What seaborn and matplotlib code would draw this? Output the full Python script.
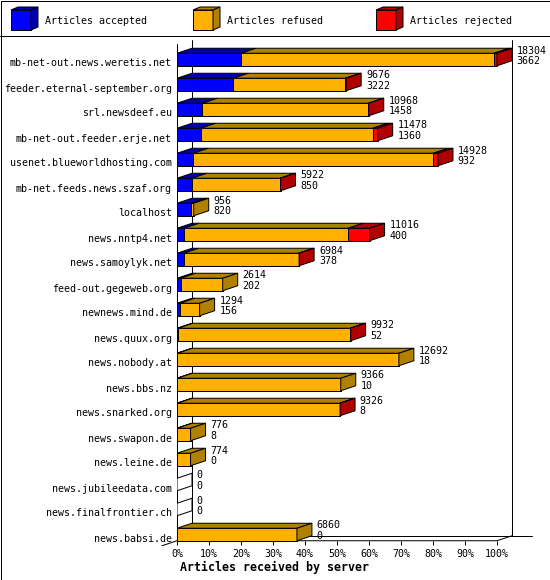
import numpy as np
import pandas as pd
import seaborn as sns
import matplotlib.pyplot as plt
from matplotlib.patches import Polygon, Rectangle
from matplotlib.transforms import ScaledTranslation

hosts = ["mb-net-out.news.weretis.net", "feeder.eternal-september.org", "srl.newsdeef.eu",
         "mb-net-out.feeder.erje.net", "usenet.blueworldhosting.com", "mb-net.feeds.news.szaf.org",
         "localhost", "news.nntp4.net", "news.samoylyk.net", "feed-out.gegeweb.org",
         "newnews.mind.de", "news.quux.org", "news.nobody.at", "news.bbs.nz", "news.snarked.org",
         "news.swapon.de", "news.leine.de", "news.jubileedata.com", "news.finalfrontier.ch",
         "news.babsi.de"]
offered = [18304, 9676, 10968, 11478, 14928, 5922, 956, 11016, 6984, 2614,
           1294, 9932, 12692, 9366, 9326, 776, 774, 0, 0, 6860]
accepted = [3662, 3222, 1458, 1360, 932, 850, 820, 400, 378, 202,
            156, 52, 18, 10, 8, 8, 0, 0, 0, 0]
# rejected counts estimated from the red segment widths
rejected = [170, 40, 20, 280, 270, 30, 0, 1230, 30, 0,
            0, 30, 0, 0, 20, 0, 0, 0, 0, 0]

series = ["Articles accepted", "Articles refused", "Articles rejected"]
colors = ["#0000FF", "#FFB000", "#FF0000"]
darks = ["#0000B0", "#B08000", "#B00000"]
ticks = list(range(0, 101, 10))

df = pd.DataFrame({"host": hosts, "offered": offered,
                   "accepted": accepted, "rejected": rejected})
df["refused"] = df["offered"] - df["accepted"] - df["rejected"]
scale = 100.0 / df["offered"].max()
df["acc_pct"] = df["accepted"] * scale
df["accref_pct"] = (df["accepted"] + df["refused"]) * scale
df["tot_pct"] = df["offered"] * scale

sns.set_style("white")
plt.rcParams["font.family"] = ["DejaVu Sans Mono"]
plt.rcParams["text.color"] = "black"
plt.rcParams["xtick.color"] = "black"
plt.rcParams["ytick.color"] = "black"
FS = 7.2
LW = 0.72

fig = plt.figure(figsize=(5.5, 5.8), dpi=100)

# background: frame + legend, in pixel coordinates
bg = fig.add_axes([0, 0, 1, 1], zorder=0)
bg.set_xlim(0, 550)
bg.set_ylim(580, 0)
bg.axis("off")
bg.add_patch(Rectangle((0.5, 0.5), 549, 579, fill=False, lw=LW, ec="black"))
bg.plot([0, 550], [35.5, 35.5], color="black", lw=LW)
for lx, lab, c, d in zip([11, 193, 376], series, colors, darks):
    bg.add_patch(Rectangle((lx, 10), 20, 20, fc=c, ec="black", lw=LW))
    bg.add_patch(Polygon([(lx, 10), (lx + 20, 10), (lx + 27, 7), (lx + 7, 7)],
                         fc=d, ec="black", lw=LW))
    bg.add_patch(Polygon([(lx + 20, 10), (lx + 20, 30), (lx + 27, 27), (lx + 27, 7)],
                         fc=d, ec="black", lw=LW))
    bg.text(lx + 34, 21, lab, fontsize=FS, va="center", ha="left")

# main chart
ax = fig.add_axes([177 / 550, 1 - 548 / 580, (540 - 177) / 550, (548 - 36) / 580], zorder=1)
ax.patch.set_visible(False)

bar_kw = dict(data=df, y="host", orient="h", width=0.5, saturation=1, errorbar=None,
              edgecolor="black", linewidth=LW, ax=ax, zorder=3)
sns.barplot(x="tot_pct", color=colors[2], **bar_kw)
sns.barplot(x="accref_pct", color=colors[1], **bar_kw)
sns.barplot(x="acc_pct", color=colors[0], **bar_kw)

dx, dy, h = 4.6875, 0.2, 0.25
for i, row in df.iterrows():
    edges = [0, row["acc_pct"], row["accref_pct"], row["tot_pct"]]
    yt = i - h
    side = "white"
    for k in range(3):
        x0, x1 = edges[k], edges[k + 1]
        if x1 - x0 > 1e-9:
            ax.add_patch(Polygon([(x0, yt), (x1, yt), (x1 + dx, yt - dy), (x0 + dx, yt - dy)],
                                 fc=darks[k], ec="black", lw=LW, zorder=3))
            side = darks[k]
    xe = edges[3]
    ax.add_patch(Polygon([(xe, i - h), (xe, i + h), (xe + dx, i + h - dy), (xe + dx, i - h - dy)],
                         fc=side, ec="black", lw=LW, zorder=3))
    tx = xe + dx + 1.5
    ax.text(tx, i - 0.36, str(row["offered"]), fontsize=FS, va="center", ha="left")
    ax.text(tx, i + 0.07, str(row["accepted"]), fontsize=FS, va="center", ha="left")

# walls and floor
n = len(df)
yf = n - 1 + h
ax.plot([0, 0], [-0.62, yf], color="black", lw=LW, zorder=2, clip_on=False)
ax.plot([dx, dx], [-0.78, yf - dy], color="black", lw=LW, zorder=1)
ax.plot([100 + dx, 100 + dx], [-0.78, yf - dy], color="black", lw=LW, zorder=1)
ax.plot([dx, 110.9], [yf - dy, yf - dy], color="black", lw=LW, zorder=1)
ax.plot([-dx, 0, 100, 100 + dx], [yf + dy, yf, yf, yf - dy], color="black", lw=LW,
        zorder=2, clip_on=False)
ax.vlines(ticks, yf, yf + 0.16, color="black", lw=LW)

ax.set_xlim(0, 113.4375)
ax.set_ylim(19.54, -0.94)
for s in ax.spines.values():
    s.set_visible(False)
ax.set_xticks(ticks)
ax.set_xticklabels([f"{t}%" for t in ticks])
ax.tick_params(axis="x", length=0, pad=1, labelsize=FS, labelcolor="black")
ax.tick_params(axis="y", length=0, pad=3.6, labelsize=FS, labelcolor="black")
ax.set_xlabel("")
ax.set_ylabel("")
off = ScaledTranslation(0, -0.03, fig.dpi_scale_trans)
for lab in ax.get_yticklabels():
    lab.set_transform(lab.get_transform() + off)

fig.text(180 / 550, 1 - 567 / 580, "Articles received by server",
         fontsize=8.4, fontweight="bold", va="center", ha="left")

fig.savefig("out.png", dpi=100)
